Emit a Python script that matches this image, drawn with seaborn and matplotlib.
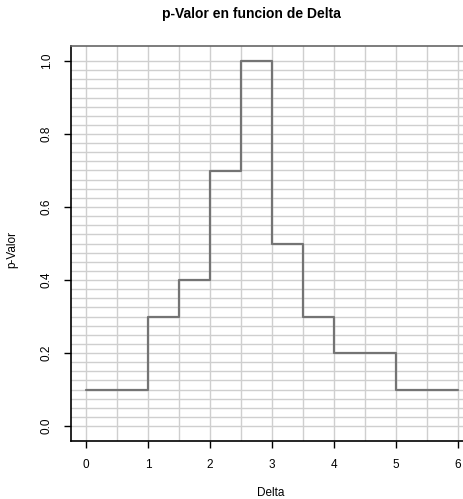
import numpy as np
import pandas as pd
import matplotlib
matplotlib.use("Agg")
import matplotlib.pyplot as plt
import seaborn as sns

delta = [0, 0.5, 1, 1.5, 2, 2.5, 3, 3.5, 4, 4.5, 5, 5.5, 6]
p_valor = [0.1, 0.1, 0.3, 0.4, 0.7, 1.0, 0.5, 0.3, 0.2, 0.2, 0.1, 0.1, 0.1]
x_ticks = [0, 1, 2, 3, 4, 5, 6]
y_ticks = [0.0, 0.2, 0.4, 0.6, 0.8, 1.0]
y_tick_labels = ["0.0", "0.2", "0.4", "0.6", "0.8", "1.0"]

sns.set_style("white")
plt.rcParams['font.family'] = ['Liberation Sans', 'DejaVu Sans']
plt.rcParams['text.color'] = 'black'
plt.rcParams['xtick.color'] = 'black'
plt.rcParams['ytick.color'] = 'black'

W, H = 463, 499
fig = plt.figure(figsize=(W / 100, H / 100), dpi=100)
left, right, top, bottom = 71, 473, 46.4, 440.6
ax = fig.add_axes([left / W, (H - bottom) / H, (right - left) / W, (bottom - top) / H])

df = pd.DataFrame({"Delta": delta, "p-Valor": p_valor})

# grid
for xv in np.arange(0, 6.01, 0.5):
    ax.axvline(xv, color="#cfcfcf", lw=1.0, zorder=0)
for yv in np.arange(0, 1.001, 0.025):
    ax.axhline(yv, color="#cfcfcf", lw=1.0, zorder=0)

sns.lineplot(data=df, x="Delta", y="p-Valor", drawstyle="steps-post",
             color="#747474", lw=1.6, ax=ax, zorder=3)

ax.set_xlim(-0.24, 6.24)
ax.set_ylim(-0.04, 1.04)
ax.set_xticks(x_ticks)
ax.set_xticklabels([str(v) for v in x_ticks])
ax.set_yticks(y_ticks)
ax.set_yticklabels(y_tick_labels, rotation=90, va="center")
ax.tick_params(axis="both", direction="out", length=5, width=1, colors="black",
               labelsize=8.5, pad=8, left=True, bottom=True)

for s in ["left", "bottom"]:
    ax.spines[s].set_color("black")
    ax.spines[s].set_linewidth(1.2)
ax.spines["top"].set_color("#666666")
ax.spines["top"].set_linewidth(1.2)
ax.spines["right"].set_visible(False)

ax.set_xlabel("")
ax.set_ylabel("")
fig.text(271 / W, 1 - 493 / H, "Delta", ha="center", va="center", fontsize=8.5, color="black")
fig.text(12 / W, 1 - 250 / H, "p-Valor", ha="center", va="center", rotation=90, fontsize=8.5, color="black")
fig.text(251 / W, 1 - 14 / H, "p-Valor en funcion de Delta", ha="center", va="center",
         fontsize=10, fontweight="bold", color="black")

fig.savefig("out.png", dpi=100)
